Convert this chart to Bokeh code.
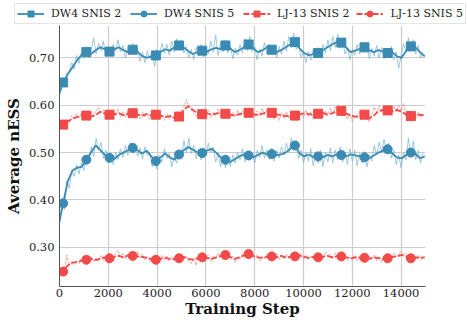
import numpy as np
from bokeh.plotting import figure
from bokeh.layouts import column
from bokeh.models import (Range1d, FixedTicker, NumeralTickFormatter, Legend,
                          LegendItem)
from bokeh.embed import file_html
from bokeh.resources import INLINE

# ---------------- data ----------------
series_names = ["DW4 SNIS 2", "DW4 SNIS 5", "LJ-13 SNIS 2", "LJ-13 SNIS 5"]
x_ticks = [0, 2000, 4000, 6000, 8000, 10000, 12000, 14000]
y_ticks = [0.30, 0.40, 0.50, 0.60, 0.70]

raw_steps = list(range(0, 15000, 100))
smooth_steps = [0] + list(range(150, 15000, 190))
marker_idx = list(range(1, 80, 5))

dw4_2_raw = [
    0.620, 0.655, 0.640, 0.668, 0.672, 0.690, 0.676, 0.705, 0.688, 0.712,
    0.698, 0.724, 0.700, 0.718, 0.742, 0.708, 0.730, 0.715, 0.735, 0.702,
    0.722, 0.710, 0.728, 0.714, 0.738, 0.712, 0.726, 0.700, 0.722, 0.708,
    0.730, 0.712, 0.720, 0.692, 0.712, 0.690, 0.715, 0.698, 0.712, 0.682,
    0.718, 0.705, 0.730, 0.710, 0.728, 0.706, 0.735, 0.712, 0.740, 0.718,
    0.732, 0.710, 0.724, 0.700, 0.718, 0.696, 0.722, 0.705, 0.728, 0.702,
    0.724, 0.708, 0.735, 0.712, 0.748, 0.705, 0.730, 0.712, 0.738, 0.710,
    0.726, 0.698, 0.720, 0.705, 0.728, 0.710, 0.740, 0.715, 0.745, 0.712,
    0.724, 0.696, 0.718, 0.704, 0.732, 0.708, 0.728, 0.706, 0.722, 0.700,
    0.724, 0.708, 0.735, 0.714, 0.745, 0.722, 0.752, 0.718, 0.728, 0.700,
    0.712, 0.690, 0.714, 0.695, 0.718, 0.700, 0.722, 0.706, 0.728, 0.710,
    0.738, 0.715, 0.745, 0.722, 0.750, 0.720, 0.738, 0.708, 0.722, 0.696,
    0.718, 0.705, 0.728, 0.708, 0.732, 0.712, 0.726, 0.698, 0.720, 0.704,
    0.726, 0.700, 0.722, 0.698, 0.718, 0.702, 0.724, 0.695, 0.712, 0.678,
    0.705, 0.730, 0.712, 0.742, 0.716, 0.738, 0.708, 0.726, 0.700, 0.712,
]
dw4_5_raw = [
    0.345, 0.400, 0.380, 0.440, 0.425, 0.462, 0.450, 0.475, 0.455, 0.478,
    0.462, 0.495, 0.478, 0.512, 0.492, 0.530, 0.505, 0.522, 0.488, 0.505,
    0.478, 0.496, 0.475, 0.500, 0.485, 0.508, 0.490, 0.515, 0.495, 0.520,
    0.502, 0.518, 0.492, 0.510, 0.486, 0.512, 0.494, 0.500, 0.470, 0.490,
    0.465, 0.495, 0.480, 0.508, 0.488, 0.498, 0.470, 0.492, 0.478, 0.505,
    0.492, 0.525, 0.500, 0.530, 0.498, 0.515, 0.488, 0.508, 0.485, 0.510,
    0.495, 0.520, 0.500, 0.512, 0.480, 0.498, 0.470, 0.492, 0.468, 0.488,
    0.470, 0.495, 0.478, 0.500, 0.485, 0.508, 0.480, 0.502, 0.484, 0.498,
    0.478, 0.505, 0.490, 0.515, 0.488, 0.505, 0.485, 0.510, 0.482, 0.505,
    0.488, 0.512, 0.495, 0.520, 0.500, 0.530, 0.510, 0.525, 0.488, 0.505,
    0.478, 0.500, 0.482, 0.508, 0.472, 0.500, 0.478, 0.505, 0.470, 0.500,
    0.480, 0.510, 0.478, 0.505, 0.485, 0.512, 0.480, 0.500, 0.475, 0.508,
    0.482, 0.505, 0.472, 0.498, 0.478, 0.502, 0.470, 0.495, 0.482, 0.515,
    0.495, 0.522, 0.500, 0.528, 0.505, 0.520, 0.488, 0.505, 0.475, 0.495,
    0.468, 0.500, 0.485, 0.530, 0.495, 0.525, 0.485, 0.505, 0.478, 0.500,
]
lj_2_raw = [
    0.552, 0.562, 0.556, 0.570, 0.565, 0.578, 0.570, 0.582, 0.574, 0.584,
    0.575, 0.583, 0.572, 0.585, 0.576, 0.588, 0.596, 0.584, 0.590, 0.578,
    0.585, 0.575, 0.588, 0.578, 0.592, 0.576, 0.586, 0.574, 0.588, 0.578,
    0.590, 0.576, 0.585, 0.572, 0.586, 0.575, 0.584, 0.570, 0.588, 0.574,
    0.585, 0.572, 0.580, 0.568, 0.582, 0.570, 0.578, 0.566, 0.580, 0.572,
    0.588, 0.596, 0.612, 0.598, 0.590, 0.582, 0.576, 0.588, 0.574, 0.586,
    0.576, 0.590, 0.574, 0.585, 0.578, 0.592, 0.576, 0.586, 0.574, 0.588,
    0.572, 0.585, 0.576, 0.590, 0.578, 0.588, 0.578, 0.592, 0.576, 0.586,
    0.574, 0.588, 0.578, 0.594, 0.580, 0.590, 0.574, 0.586, 0.570, 0.582,
    0.568, 0.584, 0.572, 0.586, 0.572, 0.584, 0.570, 0.588, 0.576, 0.586,
    0.574, 0.590, 0.576, 0.586, 0.572, 0.588, 0.578, 0.592, 0.574, 0.588,
    0.580, 0.594, 0.580, 0.596, 0.584, 0.592, 0.578, 0.586, 0.570, 0.582,
    0.566, 0.578, 0.572, 0.586, 0.574, 0.588, 0.572, 0.565, 0.580, 0.596,
    0.584, 0.598, 0.584, 0.594, 0.582, 0.596, 0.584, 0.598, 0.586, 0.600,
    0.588, 0.604, 0.578, 0.586, 0.570, 0.584, 0.572, 0.586, 0.574, 0.582,
]
lj_5_raw = [
    0.240, 0.258, 0.250, 0.284, 0.262, 0.270, 0.264, 0.272, 0.266, 0.276,
    0.268, 0.280, 0.272, 0.282, 0.270, 0.278, 0.272, 0.284, 0.274, 0.282,
    0.272, 0.284, 0.276, 0.288, 0.294, 0.280, 0.288, 0.276, 0.286, 0.278,
    0.288, 0.280, 0.292, 0.278, 0.286, 0.274, 0.282, 0.270, 0.280, 0.268,
    0.280, 0.272, 0.284, 0.274, 0.282, 0.270, 0.280, 0.272, 0.284, 0.276,
    0.286, 0.274, 0.282, 0.270, 0.266, 0.278, 0.262, 0.282, 0.274, 0.286,
    0.276, 0.284, 0.272, 0.282, 0.276, 0.288, 0.278, 0.290, 0.282, 0.286,
    0.274, 0.282, 0.268, 0.280, 0.274, 0.288, 0.280, 0.292, 0.284, 0.288,
    0.276, 0.284, 0.272, 0.282, 0.276, 0.286, 0.276, 0.290, 0.278, 0.286,
    0.274, 0.284, 0.276, 0.286, 0.276, 0.284, 0.280, 0.290, 0.282, 0.288,
    0.274, 0.284, 0.274, 0.282, 0.276, 0.286, 0.276, 0.284, 0.278, 0.290,
    0.280, 0.286, 0.276, 0.288, 0.278, 0.286, 0.276, 0.282, 0.272, 0.280,
    0.274, 0.284, 0.272, 0.282, 0.274, 0.284, 0.270, 0.282, 0.274, 0.284,
    0.272, 0.282, 0.268, 0.280, 0.272, 0.284, 0.278, 0.288, 0.280, 0.286,
    0.292, 0.284, 0.288, 0.278, 0.272, 0.282, 0.276, 0.284, 0.274, 0.280,
]

dw4_2_smooth = [0.625,
    0.648, 0.665, 0.680, 0.695, 0.706, 0.712, 0.708, 0.716, 0.722, 0.718,
    0.713, 0.718, 0.722, 0.716, 0.712, 0.717, 0.713, 0.704, 0.700, 0.703,
    0.705, 0.712, 0.718, 0.715, 0.722, 0.726, 0.722, 0.714, 0.708, 0.712,
    0.715, 0.713, 0.718, 0.721, 0.718, 0.726, 0.720, 0.712, 0.716, 0.722,
    0.728, 0.720, 0.712, 0.716, 0.722, 0.717, 0.712, 0.716, 0.722, 0.728,
    0.733, 0.720, 0.710, 0.705, 0.708, 0.710, 0.716, 0.722, 0.728, 0.733,
    0.732, 0.722, 0.712, 0.715, 0.719, 0.722, 0.716, 0.712, 0.716, 0.713,
    0.710, 0.712, 0.703, 0.700, 0.715, 0.724, 0.722, 0.712, 0.703]
dw4_5_smooth = [0.355,
    0.393, 0.440, 0.462, 0.468, 0.470, 0.485, 0.500, 0.515, 0.505, 0.495,
    0.489, 0.486, 0.495, 0.500, 0.505, 0.510, 0.505, 0.498, 0.504, 0.492,
    0.482, 0.490, 0.498, 0.490, 0.485, 0.496, 0.505, 0.512, 0.506, 0.500,
    0.499, 0.504, 0.508, 0.500, 0.490, 0.485, 0.480, 0.486, 0.492, 0.496,
    0.494, 0.490, 0.495, 0.500, 0.496, 0.497, 0.494, 0.496, 0.500, 0.508,
    0.515, 0.498, 0.492, 0.496, 0.490, 0.492, 0.490, 0.495, 0.492, 0.496,
    0.495, 0.492, 0.496, 0.494, 0.492, 0.490, 0.488, 0.494, 0.500, 0.504,
    0.507, 0.498, 0.490, 0.488, 0.495, 0.500, 0.497, 0.488, 0.492]
lj_2_smooth = [0.555,
    0.559, 0.565, 0.572, 0.575, 0.578, 0.578, 0.576, 0.579, 0.586, 0.582,
    0.580, 0.581, 0.583, 0.579, 0.582, 0.583, 0.580, 0.578, 0.581, 0.579,
    0.580, 0.578, 0.575, 0.577, 0.574, 0.576, 0.590, 0.598, 0.590, 0.582,
    0.581, 0.583, 0.580, 0.582, 0.584, 0.582, 0.580, 0.578, 0.581, 0.583,
    0.584, 0.581, 0.579, 0.582, 0.586, 0.584, 0.581, 0.579, 0.577, 0.578,
    0.578, 0.580, 0.583, 0.581, 0.580, 0.582, 0.584, 0.580, 0.583, 0.587,
    0.588, 0.583, 0.578, 0.576, 0.578, 0.580, 0.572, 0.578, 0.587, 0.590,
    0.589, 0.587, 0.590, 0.586, 0.580, 0.577, 0.578, 0.580, 0.578]
lj_5_smooth = [0.245,
    0.249, 0.262, 0.268, 0.269, 0.272, 0.274, 0.276, 0.273, 0.276, 0.279,
    0.277, 0.280, 0.282, 0.279, 0.283, 0.282, 0.281, 0.280, 0.278, 0.276,
    0.274, 0.276, 0.278, 0.276, 0.275, 0.277, 0.280, 0.276, 0.274, 0.277,
    0.279, 0.278, 0.276, 0.279, 0.282, 0.284, 0.280, 0.276, 0.279, 0.283,
    0.286, 0.282, 0.279, 0.278, 0.280, 0.281, 0.279, 0.282, 0.279, 0.280,
    0.281, 0.283, 0.280, 0.278, 0.280, 0.279, 0.280, 0.282, 0.279, 0.281,
    0.281, 0.279, 0.277, 0.279, 0.278, 0.278, 0.276, 0.279, 0.277, 0.276,
    0.277, 0.280, 0.281, 0.284, 0.281, 0.277, 0.279, 0.278, 0.279]

raw_all = [dw4_2_raw, dw4_5_raw, lj_2_raw, lj_5_raw]
smooth_all = [dw4_2_smooth, dw4_5_smooth, lj_2_smooth, lj_5_smooth]

# ---------------- styling ----------------
BLUE = "#3a8bb3"
BLUE_RAW = "#7db5d1"
RED = "#f24a48"
RED_RAW = "#f58a88"
FONT = "DejaVu Serif"
colors = [BLUE, BLUE, RED, RED]
raw_colors = [BLUE_RAW, BLUE_RAW, RED_RAW, RED_RAW]
markers = ["square", "circle", "square", "circle"]
dashes = ["solid", "solid", "6 2", "6 2"]
raw_dashes = ["solid", "solid", "3 1", "3 1"]

# ---------- main plot ----------
p = figure(width=468, height=295, output_backend="svg", toolbar_location=None,
           x_range=Range1d(0, 15000), y_range=Range1d(0.2175, 0.7681),
           min_border_left=59, min_border_right=43, min_border_top=0,
           min_border_bottom=34)
p.frame_align = False
p.outline_line_color = None
p.background_fill_color = "white"

for ax in (p.xaxis[0], p.yaxis[0]):
    ax.axis_line_color = "#555555"
    ax.axis_line_width = 1
    ax.major_tick_line_color = None
    ax.minor_tick_line_color = None
    ax.major_tick_out = 0
    ax.major_tick_in = 0
    ax.major_label_text_font = FONT
    ax.major_label_text_font_size = "11.5px"
    ax.major_label_text_color = "#222222"
    ax.axis_label_text_font = FONT
    ax.axis_label_text_font_style = "bold"
    ax.axis_label_text_font_size = "15px"
    ax.axis_label_text_color = "#111111"

p.xaxis[0].ticker = FixedTicker(ticks=x_ticks)
p.xaxis[0].major_label_standoff = 2
p.xaxis[0].axis_label = "Training Step"
p.xaxis[0].axis_label_standoff = 0
p.yaxis[0].ticker = FixedTicker(ticks=y_ticks)
p.yaxis[0].formatter = NumeralTickFormatter(format="0.00")
p.yaxis[0].major_label_standoff = 5
p.yaxis[0].axis_label = "Average nESS"
p.yaxis[0].axis_label_standoff = 3

for g in (p.xgrid[0], p.ygrid[0]):
    g.grid_line_color = "#cccccc"
    g.grid_line_width = 1.2

for raw, c, d in zip(raw_all, raw_colors, raw_dashes):
    p.line(raw_steps, raw, line_color=c, line_width=1, line_alpha=0.75,
           line_dash=d)

for sm, c, m, d in zip(smooth_all, colors, markers, dashes):
    p.line(smooth_steps, sm, line_color=c, line_width=1.8, line_dash=d)
    mx = [smooth_steps[i] for i in marker_idx]
    my = [sm[i] for i in marker_idx]
    p.scatter(mx, my, marker=m, size=9, fill_color=c, line_color=c)

# ---------- legend strip (own figure, legend samples kept off-range) ----------
lf = figure(width=468, height=25, output_backend="svg", toolbar_location=None,
            x_range=Range1d(0, 1), y_range=Range1d(0, 1),
            x_axis_type=None, y_axis_type=None,
            min_border_left=0, min_border_right=0, min_border_top=0,
            min_border_bottom=0)
lf.frame_align = False
lf.outline_line_color = None
lf.xgrid.visible = False
lf.ygrid.visible = False

items = []
for name, c, m, d in zip(series_names, colors, markers, dashes):
    ln = lf.line(x=[-5, -4], y=[-5, -5], line_color=c, line_width=1.8,
                 line_dash=d)
    sc = lf.scatter(x=[-5], y=[-5], marker=m, size=9, fill_color=c,
                    line_color=c)
    items.append(LegendItem(label=name, renderers=[ln, sc]))

legend = Legend(items=items, orientation="horizontal", location=(14, 1),
                margin=0, padding=2, spacing=7, glyph_width=27,
                glyph_height=15, label_width=72, label_height=15,
                label_standoff=7, label_text_font=FONT,
                label_text_font_size="11px", label_text_color="#222222",
                border_line_color="#cccccc", border_line_width=1,
                background_fill_color="white", background_fill_alpha=1.0)
lf.add_layout(legend, "center")

layout = column(lf, p, spacing=0)
open("out.html", "w").write(file_html(layout, INLINE))
